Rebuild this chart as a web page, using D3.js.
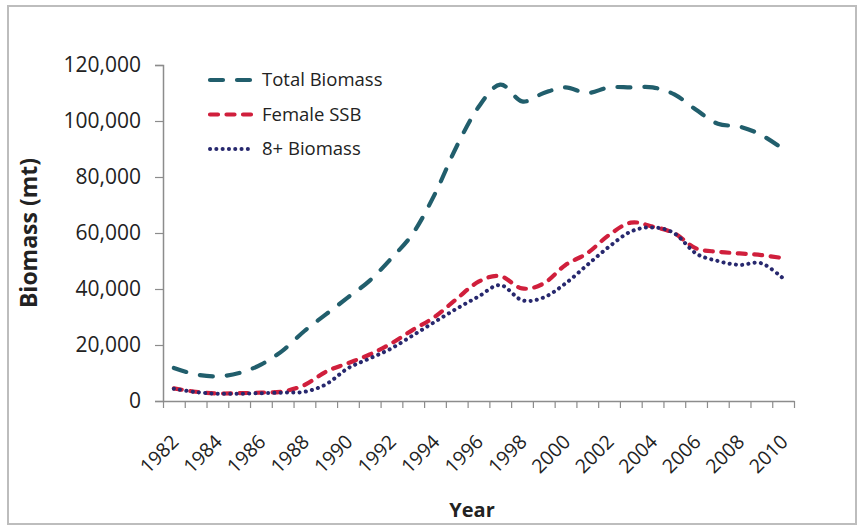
<!DOCTYPE html>
<html>
<head>
<meta charset="utf-8">
<script src="https://cdn.jsdelivr.net/npm/d3@7"></script>
<style>
  body { margin: 0; background: #fff; }
  svg { display: block; font-family: "Open Sans", sans-serif; }
</style>
</head>
<body>
<div id="chart"></div>
<script>
'use strict';

const years = d3.range(1982, 2011);
const year_labels = d3.range(1982, 2011, 2);
const y_ticks = [0, 20000, 40000, 60000, 80000, 100000, 120000];

const total_biomass = [11800, 9500, 8800, 10000, 13000, 18000, 25000, 31000, 37000, 43000,
  51000, 60000, 74000, 91000, 105000, 113000, 107000, 110000, 112000, 110000,
  112000, 112000, 112000, 109500, 104000, 99000, 98000, 95000, 90000];
const female_ssb = [4500, 3300, 2700, 2800, 3000, 3400, 5700, 10500, 13500, 16600,
  20600, 25500, 30100, 36500, 42600, 44600, 40200, 42000, 48600, 52800,
  59300, 63700, 62300, 59900, 54500, 53300, 52700, 52100, 51000];
const plus8_biomass = [4400, 3200, 2600, 2600, 2800, 3000, 3300, 6000, 11700, 15200,
  18800, 23500, 28300, 33000, 37300, 41400, 36000, 37000, 42000, 48600,
  55100, 60500, 62000, 59900, 52700, 50000, 48600, 49200, 43800];

const series = [
  {name: "Total Biomass", values: total_biomass, colour: "#215e6c", width: 4.2, dash: "13,14"},
  {name: "Female SSB", values: female_ssb, colour: "#d01f3c", width: 4.2, dash: "8,8.5"},
  {name: "8+ Biomass", values: plus8_biomass, colour: "#27286e", width: 4, dash: "0.1,6.2"}
];

const width = 865;
const height = 527;
const text_colour = "#222";

var svg = d3.select("#chart").append("svg")
  .attr("width", width)
  .attr("height", height);

/* outer frame */
svg.append("rect")
  .attr("x", 8).attr("y", 6)
  .attr("width", 848).attr("height", 518)
  .attr("fill", "#fff")
  .attr("stroke", "#bdbdbd")
  .attr("stroke-width", 2);

// category axis: years sit in the middle of each slot
var x = d3.scaleLinear().domain([1981.5, 2010.5]).range([163, 794]);
var y = d3.scaleLinear().domain([0, 120000]).range([401, 65]);

var yAxis = svg.append("g")
  .attr("transform", "translate(163,0)")
  .call(d3.axisLeft(y).tickValues(y_ticks).tickSize(8).tickPadding(14).tickFormat(d3.format(",")));

yAxis.select(".domain").attr("stroke", "#8c8c8c").attr("stroke-width", 1.5);
yAxis.selectAll(".tick line").attr("stroke", "#8c8c8c").attr("stroke-width", 1.2);
yAxis.selectAll("text")
  .attr("font-family", "Open Sans, sans-serif")
  .attr("font-size", 21)
  .attr("fill", text_colour);

var xAxis = svg.append("g")
  .attr("transform", "translate(0,401)")
  .call(d3.axisBottom(x).tickValues(d3.range(1981.5, 2011, 1)).tickSize(7).tickSizeOuter(0).tickFormat(""));

xAxis.select(".domain").attr("stroke", "#8c8c8c").attr("stroke-width", 1.5);
xAxis.selectAll(".tick line").attr("stroke", "#8c8c8c").attr("stroke-width", 1.2);

svg.append("g")
  .selectAll("text")
  .data(year_labels)
  .enter().append("text")
  .attr("transform", function(d) { return "translate(" + (x(d) + 6) + ",443) rotate(-45)"; })
  .attr("text-anchor", "end")
  .attr("font-size", 19.5)
  .attr("fill", text_colour)
  .text(function(d) { return d; });

/* Axis titles */
svg.append("text")
  .attr("transform", "translate(37,233) rotate(-90)")
  .attr("text-anchor", "middle")
  .attr("font-size", 23)
  .attr("font-weight", "bold")
  .attr("fill", text_colour)
  .text("Biomass (mt)");

svg.append("text")
  .attr("x", 472)
  .attr("y", 517)
  .attr("text-anchor", "middle")
  .attr("font-size", 20)
  .attr("font-weight", "bold")
  .attr("fill", text_colour)
  .text("Year");

var line = d3.line()
  .x(function(d, i) { return x(years[i]); })
  .y(function(d) { return y(d); })
  .curve(d3.curveCatmullRom.alpha(0));

svg.append("g")
  .selectAll("path")
  .data(series)
  .enter().append("path")
  .attr("d", function(d) { return line(d.values); })
  .attr("fill", "none")
  .attr("stroke", function(d) { return d.colour; })
  .attr("stroke-width", function(d) { return d.width; })
  .attr("stroke-dasharray", function(d) { return d.dash; })
  .attr("stroke-linecap", "round");

/* Legend */
var legend = svg.append("g")
  .selectAll("g")
  .data(series)
  .enter().append("g")
  .attr("transform", function(d, i) { return "translate(0," + (80 + i * 34.5) + ")"; });

legend.append("line")
  .attr("x1", 210).attr("x2", 252)
  .attr("y1", 0).attr("y2", 0)
  .attr("stroke", function(d) { return d.colour; })
  .attr("stroke-width", function(d) { return d.width; })
  .attr("stroke-dasharray", function(d) { return d.dash; })
  .attr("stroke-linecap", "round");

legend.append("text")
  .attr("x", 262)
  .attr("y", 0)
  .attr("dy", "0.35em")
  .attr("font-size", 18.5)
  .attr("fill", text_colour)
  .text(function(d) { return d.name; });
</script>
</body>
</html>
